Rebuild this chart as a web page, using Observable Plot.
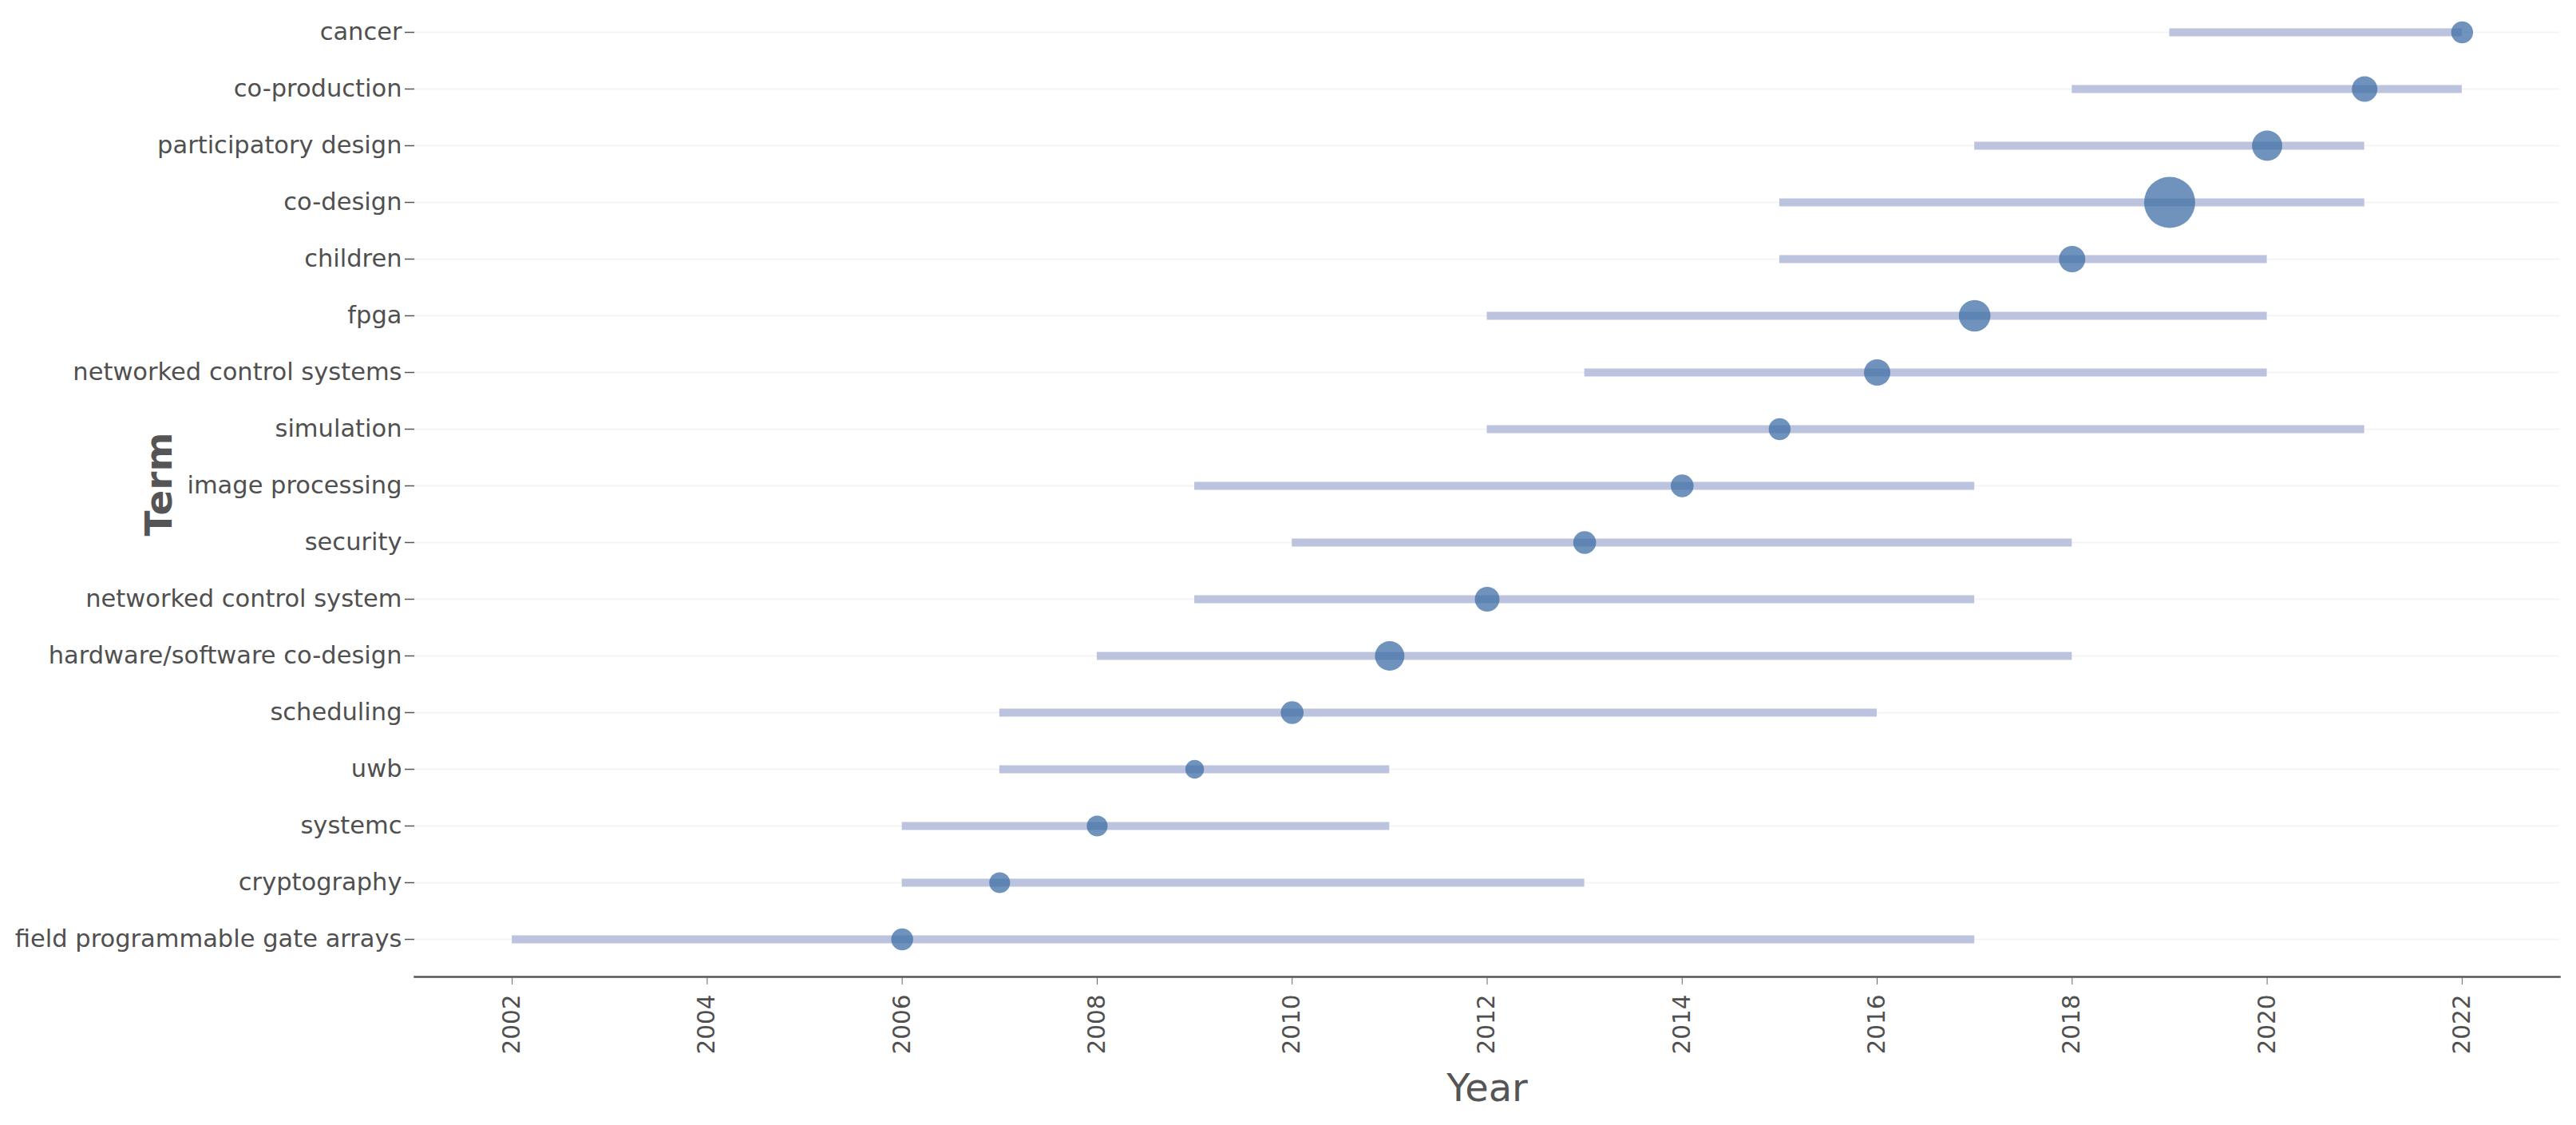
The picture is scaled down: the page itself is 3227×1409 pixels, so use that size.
<!DOCTYPE html>
<html>
<head>
<meta charset="utf-8">
<script src="https://cdn.jsdelivr.net/npm/d3@7"></script>
<script src="https://cdn.jsdelivr.net/npm/@observablehq/plot@0.6"></script>
<style>
  html, body { margin: 0; padding: 0; background: #fff; }
  #chart svg { display: block; }
</style>
</head>
<body>
<div id="chart"></div>
<script>
const terms = [
  "cancer", "co-production", "participatory design", "co-design", "children",
  "fpga", "networked control systems", "simulation", "image processing", "security",
  "networked control system", "hardware/software co-design", "scheduling", "uwb",
  "systemc", "cryptography", "field programmable gate arrays"
];
const yearStart  = [2019, 2018, 2017, 2015, 2015, 2012, 2013, 2012, 2009, 2010, 2009, 2008, 2007, 2007, 2006, 2006, 2002];
const yearMedian = [2022, 2021, 2020, 2019, 2018, 2017, 2016, 2015, 2014, 2013, 2012, 2011, 2010, 2009, 2008, 2007, 2006];
const yearEnd    = [2022, 2022, 2021, 2021, 2020, 2020, 2020, 2021, 2017, 2018, 2017, 2018, 2016, 2011, 2011, 2013, 2017];
const freq       = [11, 15, 21, 60, 16, 23, 16, 11, 12, 12, 14, 20, 12, 8, 10, 10, 11];
const xTicks = [2002, 2004, 2006, 2008, 2010, 2012, 2014, 2016, 2018, 2020, 2022];

const rows = terms.map((t, i) => ({
  term: t, start: yearStart[i], median: yearMedian[i], end: yearEnd[i], freq: freq[i]
}));

const W = 3227, H = 1409;
const textColor = "#505050";

const chart = Plot.plot({
  width: W,
  height: H,
  marginTop: 1,
  marginLeft: 519,
  marginRight: 21,
  marginBottom: 186,
  style: { fontFamily: "'DejaVu Sans', sans-serif", fontSize: "30.5px", color: textColor, background: "#fff" },
  x: { domain: [2001, 2023] },
  y: { type: "point", domain: terms, padding: 0.5, insetBottom: 9 },
  r: { type: "sqrt", domain: [0, d3.max(freq)], range: [0, 32] },
  marks: [
    Plot.gridY({ stroke: "#000", strokeOpacity: 0.045, strokeWidth: 2 }),
    Plot.ruleY(rows, { y: "term", x1: "start", x2: "end", stroke: "#bcc3de", strokeWidth: 10 }),
    Plot.dot(rows, { x: "median", y: "term", r: "freq", fill: "#3f6fa5", fillOpacity: 0.75, stroke: null }),
    Plot.frame({ anchor: "bottom", stroke: "#555", strokeWidth: 2.5 }),
    Plot.axisY({ tickSize: 12, tickPadding: 4, label: null, stroke: "#555", strokeWidth: 1.5, fontSize: 30.5, fill: textColor }),
    Plot.axisX({ ticks: xTicks, tickFormat: d => String(d), tickSize: 10, tickPadding: 12, tickRotate: -90,
                 label: null, stroke: "#666", fontSize: 29.5, fill: textColor }),
    Plot.text(["Year"], { frameAnchor: "bottom", dy: 140, text: d => d, fontSize: 48, fill: "#555", lineAnchor: "middle" }),
    Plot.text(["Term"], { frameAnchor: "left", dx: -320, dy: -6, rotate: -90, text: d => d, textAnchor: "middle",
                          fontSize: 47, fontWeight: "bold", fill: "#555" })
  ]
});

document.getElementById("chart").appendChild(chart);
</script>
</body>
</html>
